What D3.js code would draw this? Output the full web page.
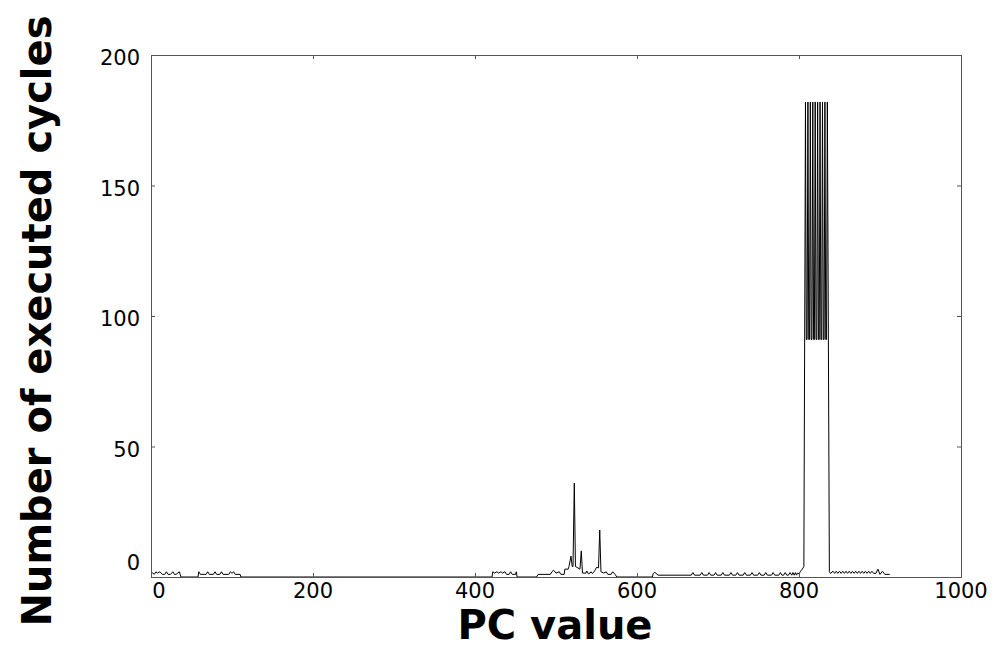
<!DOCTYPE html>
<html>
<head>
<meta charset="utf-8">
<script src="https://cdn.jsdelivr.net/npm/d3@7"></script>
<style>
  body { margin: 0; background: #fff; }
  svg { display: block; font-family: "DejaVu Sans", sans-serif; }
</style>
</head>
<body>
<div id="chart"></div>
<script>
// PC values (x) and executed cycles (y)
var pcValues = [
  0, 2, 4, 6, 8, 11, 14, 17, 19, 21, 24, 27, 29, 31, 35, 36, 37,
  58, 59, 61, 68, 70, 72, 77, 79, 81, 85, 87, 89, 96, 98, 100, 102, 104, 110, 111,
  421, 422, 424, 427, 429, 432, 434, 437, 439, 442, 444, 446, 450, 451, 452,
  476, 478, 493, 495, 497, 500, 504, 506, 510, 511, 515, 516, 518.5, 520, 521, 522.6, 524,
  527, 529.6, 531.2, 532.7, 537, 538, 540, 542, 543, 545, 548, 550, 552.5, 554, 555.5,
  559, 562, 564, 568, 570, 573, 575,
  619, 620, 622, 626, 667, 669, 671, 678, 680, 682, 687, 689, 691, 695, 697, 699,
  704, 706, 708, 714, 716, 718, 722, 724, 726, 731, 733, 735, 740, 742, 744,
  749, 751, 753, 757, 759, 761, 766, 768, 770, 775, 777, 779, 781, 783, 785,
  787, 789, 791, 792.5, 794, 795.5, 797, 798, 800, 802, 804, 806,
  808, 809, 810, 811, 812, 813, 814, 815, 816, 817, 818, 819, 820, 821, 822,
  823, 824, 825, 826, 827, 828, 829, 830, 831, 832, 833, 834, 835, 837.5,
  839, 842, 844, 846, 848, 850, 852, 854, 856, 858, 860, 862, 864, 866, 868,
  870, 872, 874, 876, 878, 880, 882, 884, 886, 888, 890, 892, 895, 897.5, 900, 903, 906, 912
];
var cycles = [
  1, 1.6, 1, 2, 1.5, 2, 1, 1, 2, 1, 1, 2, 1, 1, 2, 1, 0,
  0, 2, 1, 1, 2, 1, 1, 2, 1, 1, 2, 1, 1, 2, 1.4, 2, 1, 1, 0,
  0, 2, 1.5, 2, 1.5, 2, 1.5, 2, 1, 1, 2, 1, 1, 2, 0,
  0, 1, 1, 2, 2.6, 1.5, 2, 1, 1, 3, 3, 4, 8, 4, 4, 36, 4,
  3.5, 3, 10, 1.5, 1.5, 2.3, 1.2, 1.5, 2, 1.3, 2.5, 3.7, 3.5, 18, 2,
  1.5, 2, 1, 1, 2, 1, 0,
  0, 1.3, 1.8, 0.7, 0.7, 1.7, 0.7, 0.7, 1.7, 0.7, 0.7, 1.7, 0.7, 0.7, 1.7, 0.7,
  0.7, 1.7, 0.7, 0.7, 1.7, 0.7, 0.7, 1.7, 0.7, 0.7, 1.7, 0.7, 0.7, 1.7, 0.7,
  0.7, 1.7, 0.7, 0.7, 1.7, 0.7, 0.7, 1.7, 0.7, 0.7, 1.7, 0.7, 0.7, 1.7, 0.7,
  0.7, 1.7, 0.7, 1.7, 0.7, 1.7, 0.7, 1.5, 1.2, 2.2, 3, 4,
  182, 91, 91, 182, 91, 91, 182, 91, 91, 182, 91, 91, 182, 91, 91,
  182, 91, 91, 182, 91, 91, 182, 91, 91, 182, 91, 91, 182, 2,
  1.4, 2.2, 1.4, 2.2, 1.4, 2.2, 1.4, 2.2, 1.4, 2.2, 1.4, 2.2, 1.4, 2.2, 1.4,
  2.2, 1.4, 2.2, 1.4, 2.2, 1.4, 2.2, 1.4, 2.2, 1.4, 2.2, 1.4, 1.4, 3, 1, 2.2, 1, 1
];
var xTicks = [0, 200, 400, 600, 800, 1000];
var yTicks = [0, 50, 100, 150, 200];

var points = pcValues.map(function (pc, i) {
    return {pc: pc, cycles: cycles[i]};
});

// Plot frame
var margin = {top: 55, right: 39, bottom: 73, left: 151},
    width = 1000 - margin.left - margin.right,
    height = 650 - margin.top - margin.bottom;

var svg = d3.select("#chart")
    .append("svg")
    .attr("width", 1000)
    .attr("height", 650);

var g = svg.append("g")
    .attr("transform", "translate(" + margin.left + "," + margin.top + ")");

var x = d3.scaleLinear().domain([0, 1000]).range([0, width]);
var y = d3.scaleLinear().domain([0, 200]).range([height, 0]);

// Line
var line = d3.line()
    .x(function (d) { return x(d.pc); })
    .y(function (d) { return y(d.cycles); });

g.append("path")
    .datum(points)
    .attr("fill", "none")
    .attr("stroke", "#000")
    .attr("stroke-width", 1)
    .attr("stroke-linejoin", "miter")
    .attr("d", line);

// Inward ticks on all four sides
var tickColor = "#555";
var xAxisB = g.append("g")
    .attr("transform", "translate(0," + height + ")")
    .call(d3.axisBottom(x).tickValues(xTicks).tickSize(-4).tickFormat(""));
var xAxisT = g.append("g")
    .call(d3.axisTop(x).tickValues(xTicks).tickSize(-4).tickFormat(""));
var yAxisL = g.append("g")
    .call(d3.axisLeft(y).tickValues(yTicks).tickSize(-4).tickFormat(""));
var yAxisR = g.append("g")
    .attr("transform", "translate(" + width + ",0)")
    .call(d3.axisRight(y).tickValues(yTicks).tickSize(-4).tickFormat(""));

[xAxisB, xAxisT, yAxisL, yAxisR].forEach(function (a) {
    a.select(".domain").remove();
    a.selectAll("line").attr("stroke", tickColor);
});

// Frame
g.append("rect")
    .attr("x", 0.5)
    .attr("y", 0.5)
    .attr("width", width)
    .attr("height", height)
    .attr("fill", "none")
    .attr("stroke", "#555")
    .attr("stroke-width", 1);

// Tick labels
g.selectAll(".xlab")
    .data(xTicks)
    .enter()
    .append("text")
    .attr("x", function (d) { return x(d) + (d === 0 ? 8 : 0); })
    .attr("y", height + 21)
    .attr("text-anchor", "middle")
    .style("font-size", "21px")
    .text(function (d) { return d; });

g.selectAll(".ylab")
    .data(yTicks)
    .enter()
    .append("text")
    .attr("x", -11)
    .attr("y", function (d) { return y(d) + (d === 0 ? -7 : 10); })
    .attr("text-anchor", "end")
    .style("font-size", "21px")
    .text(function (d) { return d; });

// Axis titles
svg.append("text")
    .attr("x", 555)
    .attr("y", 639)
    .attr("text-anchor", "middle")
    .style("font-size", "40px")
    .style("font-weight", "bold")
    .text("PC value");

svg.append("text")
    .attr("transform", "translate(51,321) rotate(-90)")
    .attr("text-anchor", "middle")
    .style("font-size", "40px")
    .style("font-weight", "bold")
    .text("Number of executed cycles");
</script>
</body>
</html>
